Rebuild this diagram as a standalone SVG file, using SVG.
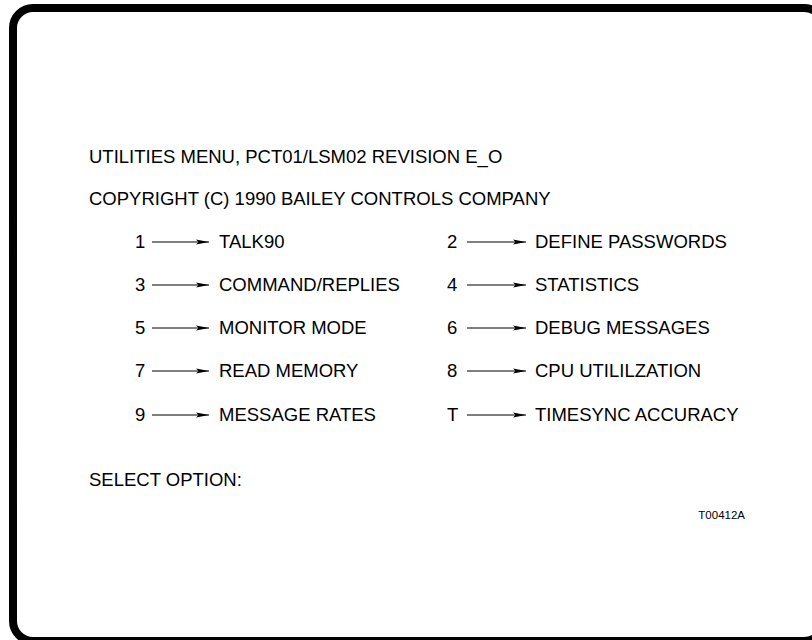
<svg xmlns="http://www.w3.org/2000/svg" width="812" height="640" viewBox="0 0 812 640">
<defs>
<style>
.t{font-family:"Liberation Sans",Arial,sans-serif;font-size:18.5px;fill:#000}
.s{font-family:"Liberation Sans",Arial,sans-serif;font-size:11.5px;fill:#000}
.a{stroke:#000;stroke-width:1;fill:none;marker-end:url(#ah)}
</style>
<marker id="ah" markerWidth="13" markerHeight="6" refX="13" refY="3" orient="auto" markerUnits="userSpaceOnUse">
<path d="M0,0.6 L13,3 L0,5.4 L2.5,3 Z" fill="#000"/>
</marker>
</defs>
<rect width="812" height="640" fill="#fff"/>
<rect id="frame" x="13" y="8" width="811" height="633" rx="20" ry="20" fill="none" stroke="#000" stroke-width="8"/>
<g id="header">
<text class="t" x="89" y="163">UTILITIES MENU, PCT01/LSM02 REVISION E_O</text>
<text class="t" x="89" y="205">COPYRIGHT (C) 1990 BAILEY CONTROLS COMPANY</text>
</g>
<g id="keys">
<text class="t" x="135" y="248">1</text>
<text class="t" x="135" y="291">3</text>
<text class="t" x="135" y="334">5</text>
<text class="t" x="135" y="377">7</text>
<text class="t" x="135" y="421">9</text>
<text class="t" x="447" y="248">2</text>
<text class="t" x="447" y="291">4</text>
<text class="t" x="447" y="334">6</text>
<text class="t" x="447" y="377">8</text>
<text class="t" x="447" y="421">T</text>
</g>
<g id="connectors">
<line class="a" x1="152" y1="242" x2="209" y2="242"/>
<line class="a" x1="152" y1="285" x2="209" y2="285"/>
<line class="a" x1="152" y1="328" x2="209" y2="328"/>
<line class="a" x1="152" y1="371" x2="209" y2="371"/>
<line class="a" x1="152" y1="415" x2="209" y2="415"/>
<line class="a" x1="467" y1="242" x2="526" y2="242"/>
<line class="a" x1="467" y1="285" x2="526" y2="285"/>
<line class="a" x1="467" y1="328" x2="526" y2="328"/>
<line class="a" x1="467" y1="371" x2="526" y2="371"/>
<line class="a" x1="467" y1="415" x2="526" y2="415"/>
</g>
<g id="options">
<text class="t" x="219" y="248">TALK90</text>
<text class="t" x="219" y="291">COMMAND/REPLIES</text>
<text class="t" x="219" y="334">MONITOR MODE</text>
<text class="t" x="219" y="377">READ MEMORY</text>
<text class="t" x="219" y="421">MESSAGE RATES</text>
<text class="t" x="535" y="248">DEFINE PASSWORDS</text>
<text class="t" x="535" y="291">STATISTICS</text>
<text class="t" x="535" y="334">DEBUG MESSAGES</text>
<text class="t" x="535" y="377">CPU UTILILZATION</text>
<text class="t" x="535" y="421">TIMESYNC ACCURACY</text>
</g>
<g id="footer">
<text class="t" x="89" y="486">SELECT OPTION:</text>
<text class="s" x="745" y="519" text-anchor="end">T00412A</text>
</g>
</svg>
